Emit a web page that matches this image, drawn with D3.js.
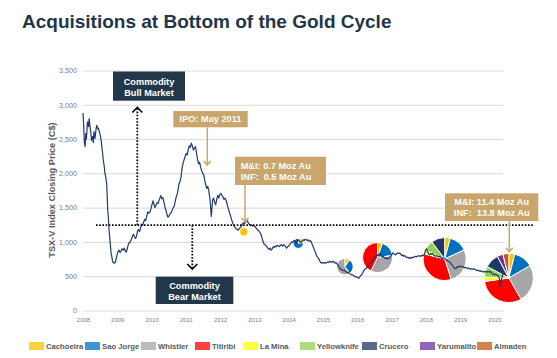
<!DOCTYPE html>
<html><head><meta charset="utf-8">
<script src="https://cdn.jsdelivr.net/npm/d3@7"></script>
<style>
body{margin:0;background:#fff}
svg{display:block}
text{font-family:"Liberation Sans",Arial,Helvetica,sans-serif}
</style>
</head><body>
<svg id="c" width="557" height="358"></svg>
<script>
// ---------- DATA ----------
const titleText = "Acquisitions at Bottom of the Gold Cycle";
const yAxisTitle = "TSX-V Index Closing Price (C$)";
const yTicks = [0, 500, 1000, 1500, 2000, 2500, 3000, 3500];
const xTicks = [2008, 2009, 2010, 2011, 2012, 2013, 2014, 2015, 2016, 2017, 2018, 2019, 2020];

const closeDates = [
2008.00,2008.02,2008.04,2008.06,2008.08,2008.10,2008.13,2008.16,2008.18,2008.20,2008.22,2008.25,2008.28,2008.30,2008.32,2008.35,2008.38,2008.40,2008.43,2008.45,
2008.48,2008.50,2008.53,2008.55,2008.57,2008.59,2008.62,2008.64,2008.67,2008.69,2008.71,2008.72,2008.74,2008.76,2008.78,2008.80,2008.82,2008.84,2008.86,2008.88,
2008.91,2008.94,2008.96,2008.99,2009.02,2009.05,2009.08,2009.11,2009.14,2009.17,2009.20,2009.23,2009.26,2009.29,2009.32,2009.35,2009.38,2009.41,2009.44,2009.47,
2009.50,2009.53,2009.56,2009.59,2009.62,2009.65,2009.68,2009.71,2009.74,2009.77,2009.80,2009.83,2009.86,2009.89,2009.92,2009.95,2009.98,2010.01,2010.04,2010.07,
2010.10,2010.13,2010.16,2010.19,2010.22,2010.25,2010.27,2010.30,2010.33,2010.36,2010.39,2010.42,2010.45,2010.48,2010.51,2010.54,2010.57,2010.60,2010.63,2010.66,
2010.69,2010.72,2010.75,2010.78,2010.80,2010.83,2010.86,2010.89,2010.92,2010.95,2010.98,2011.01,2011.04,2011.07,2011.10,2011.13,2011.16,2011.19,2011.22,2011.25,
2011.28,2011.31,2011.34,2011.37,2011.40,2011.43,2011.46,2011.49,2011.52,2011.55,2011.58,2011.61,2011.64,2011.67,2011.70,2011.72,2011.74,2011.76,2011.78,2011.81,
2011.84,2011.87,2011.90,2011.93,2011.96,2011.99,2012.02,2012.05,2012.08,2012.11,2012.14,2012.17,2012.20,2012.23,2012.26,2012.29,2012.32,2012.35,2012.38,2012.41,
2012.44,2012.47,2012.50,2012.53,2012.56,2012.59,2012.62,2012.65,2012.68,2012.71,2012.74,2012.77,2012.80,2012.83,2012.86,2012.89,2012.92,2012.95,2012.98,2013.01,
2013.04,2013.07,2013.10,2013.13,2013.16,2013.19,2013.22,2013.25,2013.28,2013.31,2013.34,2013.37,2013.40,2013.43,2013.46,2013.49,2013.52,2013.55,2013.58,2013.61,
2013.64,2013.67,2013.70,2013.73,2013.76,2013.79,2013.82,2013.85,2013.88,2013.91,2013.94,2013.97,2014.00,2014.03,2014.06,2014.09,2014.12,2014.15,2014.18,2014.21,
2014.24,2014.27,2014.30,2014.33,2014.36,2014.39,2014.42,2014.45,2014.48,2014.51,2014.54,2014.57,2014.60,2014.63,2014.66,2014.69,2014.72,2014.75,2014.78,2014.81,
2014.84,2014.87,2014.90,2014.93,2014.96,2014.99,2015.02,2015.05,2015.08,2015.11,2015.14,2015.17,2015.20,2015.23,2015.26,2015.29,2015.32,2015.35,2015.38,2015.41,
2015.44,2015.47,2015.50,2015.53,2015.56,2015.59,2015.62,2015.65,2015.68,2015.71,2015.74,2015.77,2015.80,2015.83,2015.86,2015.89,2015.92,2015.95,2015.98,2016.01,
2016.04,2016.07,2016.10,2016.13,2016.16,2016.19,2016.22,2016.25,2016.28,2016.31,2016.34,2016.37,2016.40,2016.43,2016.46,2016.49,2016.52,2016.55,2016.58,2016.61,
2016.64,2016.67,2016.70,2016.73,2016.76,2016.79,2016.82,2016.85,2016.88,2016.91,2016.94,2016.97,2017.00,2017.03,2017.06,2017.09,2017.12,2017.15,2017.18,2017.21,
2017.24,2017.27,2017.30,2017.33,2017.36,2017.39,2017.42,2017.45,2017.48,2017.51,2017.54,2017.57,2017.60,2017.63,2017.66,2017.69,2017.72,2017.75,2017.78,2017.81,
2017.84,2017.87,2017.90,2017.93,2017.96,2017.99,2018.02,2018.05,2018.08,2018.11,2018.14,2018.17,2018.20,2018.23,2018.26,2018.29,2018.32,2018.35,2018.38,2018.41,
2018.44,2018.47,2018.50,2018.53,2018.56,2018.59,2018.62,2018.65,2018.68,2018.71,2018.74,2018.77,2018.80,2018.83,2018.86,2018.89,2018.92,2018.95,2018.98,2019.01,
2019.04,2019.07,2019.10,2019.13,2019.16,2019.19,2019.22,2019.25,2019.28,2019.31,2019.34,2019.37,2019.40,2019.43,2019.46,2019.49,2019.52,2019.55,2019.58,2019.61,
2019.64,2019.67,2019.70,2019.73,2019.76,2019.79,2019.82,2019.85,2019.88,2019.91,2019.94,2019.97,2020.00,2020.03,2020.06,2020.09,2020.12,2020.15,2020.17,2020.19,
2020.21,2020.23,2020.25,2020.28
];
const closeValues = [
2880,2700,2450,2390,2580,2500,2750,2680,2800,2700,2630,2480,2540,2450,2610,2510,2640,2700,2650,2660,
2600,2560,2480,2390,2300,2200,2100,2000,1930,1850,1610,1470,1350,1170,1060,950,830,790,720,700,
690,700,740,800,860,880,845,870,900,880,910,870,850,900,960,990,1000,1040,1080,1110,
1080,1050,1080,1160,1180,1150,1210,1260,1240,1290,1330,1310,1380,1440,1420,1430,1480,1540,1600,1550,
1500,1540,1570,1560,1610,1650,1675,1630,1645,1580,1510,1460,1400,1360,1380,1410,1425,1460,1500,1520,
1590,1660,1700,1780,1850,1880,1950,2080,2150,2200,2250,2290,2270,2350,2400,2380,2440,2400,2340,2370,
2390,2300,2200,2140,2160,2090,2040,2000,1980,1900,1830,1780,1810,1740,1640,1520,1370,1480,1610,1640,
1580,1540,1620,1680,1640,1690,1710,1680,1660,1620,1640,1610,1560,1500,1450,1400,1350,1300,1260,1230,
1210,1190,1180,1170,1200,1210,1230,1260,1280,1270,1290,1320,1300,1270,1250,1240,1250,1230,1240,1230,
1210,1190,1170,1160,1140,1110,1060,1010,970,960,940,930,900,890,910,880,900,930,920,940,
930,950,940,930,950,960,940,960,950,930,910,930,940,960,980,1000,990,1020,1010,980,
1000,1030,1020,1000,990,1010,1030,1020,1040,1030,1020,1030,1010,1020,1000,960,920,880,850,800,
780,760,730,700,690,700,690,700,690,700,710,700,720,710,700,720,710,690,700,680,
660,630,610,600,590,580,590,570,560,550,560,540,530,520,520,510,500,490,490,480,
470,490,510,520,550,580,600,610,630,640,650,680,700,720,740,770,780,790,810,800,
830,820,800,780,790,770,760,770,750,760,770,790,810,840,830,820,810,830,840,830,
840,820,800,810,790,800,780,770,780,760,770,760,780,770,780,790,780,790,800,790,
800,790,810,800,820,880,900,860,830,810,830,820,830,810,800,790,800,790,780,790,
770,760,770,760,750,740,730,720,710,700,680,660,640,620,610,620,640,630,640,650,
640,630,640,620,630,620,610,620,610,600,610,600,610,600,590,580,590,580,570,580,
570,560,570,560,570,560,570,560,570,550,540,530,520,530,520,510,500,460,360,400,
460,500,530,560
];

const projects = ["Cachoeira","Sao Jorge","Whistler","Titiribi","La Mina","Yellowknife","Crucero","Yarumalito","Almaden"];
const projectColors = ["#FFC000","#0070C0","#A6A6A6","#FF0000","#FFFF00","#92D050","#1F3864","#7030A0","#C55A11"];
const projectShare = [14, 46, 90, 112, 10, 26, 34, 14, 14];

const acqDates = [2012.69, 2014.28, 2015.64, 2016.59, 2018.55, 2020.42];
const acqIndex = [1149, 980, 639, 773, 751, 474];
const acqCount = [1, 2, 3, 4, 7, 9];
const acqTotalMoz = [0.55, 1.1, 2.8, 9.4, 19.3, 25.2];

// ---------- CHART ----------
const svg = d3.select("#c");
const x = d3.scaleLinear().domain([2008, 2020.25]).range([83, 503]);
const y = d3.scaleLinear().domain([0, 3500]).range([310.5, 70.5]);
const rScale = d3.scaleSqrt().domain([0, 25.2]).range([0, 24.5]);

svg.append("text").attr("x", 22).attr("y", 28).attr("font-size", 19).attr("font-weight", "bold")
  .attr("fill", "#1F3548").text(titleText);

// y axis with gridlines
const yAxis = svg.append("g").attr("transform", "translate(83,0)")
  .call(d3.axisLeft(y).tickValues(yTicks).tickSize(-420).tickPadding(6).tickFormat(d3.format(",")));
yAxis.select(".domain").remove();
yAxis.selectAll(".tick line").attr("stroke", "#D9D9D9").attr("stroke-width", 1);
yAxis.selectAll(".tick text").attr("font-size", 7.2).attr("fill", "#808080")
  .attr("font-family", "Liberation Sans, Arial, sans-serif");

// x axis labels
const xAxis = svg.append("g").attr("transform", "translate(0,310.5)")
  .call(d3.axisBottom(x).tickValues(xTicks).tickSize(0).tickPadding(7.5).tickFormat(d3.format("d")));
xAxis.select(".domain").remove();
xAxis.selectAll(".tick text").attr("font-size", 6).attr("fill", "#808080")
  .attr("font-family", "Liberation Sans, Arial, sans-serif");

// y axis title
svg.append("text").attr("transform", "translate(55,190) rotate(-90)").attr("text-anchor", "middle")
  .attr("font-size", 9.2).attr("font-weight", "bold").attr("fill", "#595959").text(yAxisTitle);

// pies
const pie = d3.pie().sort(null).value(d => d.v);
acqDates.forEach((dt, i) => {
  const slices = projects.slice(0, acqCount[i]).map((p, j) => ({ name: p, v: projectShare[j], c: projectColors[j] }));
  const arc = d3.arc().innerRadius(0).outerRadius(rScale(acqTotalMoz[i]));
  svg.append("g").attr("transform", `translate(${x(dt)},${y(acqIndex[i])})`)
    .selectAll("path").data(pie(slices)).join("path")
    .attr("d", arc).attr("fill", d => d.data.c)
    .attr("stroke", "#fff").attr("stroke-width", acqCount[i] > 1 ? 1 : 0);
});

// price line
const series = closeDates.map((d, i) => [d, closeValues[i]]);
svg.append("path").datum(series)
  .attr("d", d3.line().x(d => x(d[0])).y(d => y(d[1])))
  .attr("fill", "none").attr("stroke", "#1F3A6E").attr("stroke-width", 1.2).attr("stroke-linejoin", "round");

// dotted reference lines
const dot = { stroke: "#000", "stroke-width": 1.8, "stroke-dasharray": "1.6,1.6" };
function dline(x1, y1, x2, y2) {
  const l = svg.append("line").attr("x1", x1).attr("y1", y1).attr("x2", x2).attr("y2", y2);
  Object.entries(dot).forEach(([k, v]) => l.attr(k, v));
}
const yRef = y(1245);
dline(96, yRef, 533, yRef);
dline(137.3, yRef, 137.3, 108.5);
dline(192.3, yRef, 192.3, 268);
svg.append("path").attr("d", "M132.3,112.5 L137.3,107.5 L142.3,112.5").attr("fill", "none").attr("stroke", "#000").attr("stroke-width", 1.6);
svg.append("path").attr("d", "M187.3,264 L192.3,269 L197.3,264").attr("fill", "none").attr("stroke", "#000").attr("stroke-width", 1.6);

// boxes
const dark = "#22384A", tan = "#C9A66B";
function box(x0, y0, x1, y1, fill, lines, anchor, tx) {
  svg.append("rect").attr("x", x0).attr("y", y0).attr("width", x1 - x0).attr("height", y1 - y0).attr("fill", fill);
  lines.forEach(l => {
    svg.append("text").attr("x", tx).attr("y", l.y).attr("text-anchor", anchor)
      .attr("font-size", 9.2).attr("font-weight", "bold").attr("fill", "#fff")
      .style("white-space", "pre").text(l.t);
  });
}
box(113, 71.5, 185, 100.7, dark, [{ t: "Commodity", y: 84.5 }, { t: "Bull Market", y: 95.5 }], "middle", 149);
box(155.7, 276.7, 233.3, 304, dark, [{ t: "Commodity", y: 289.3 }, { t: "Bear Market", y: 300.3 }], "middle", 194.5);
box(173.3, 111, 247.7, 127.3, tan, [{ t: "IPO: May 2011", y: 122.4 }], "middle", 210.5);
box(235, 156.7, 326, 185, tan, [{ t: "M&I: 0.7 Moz Au", y: 169 }, { t: "INF:  0.5 Moz Au", y: 180 }], "start", 240.7);
box(445, 193.3, 538.3, 221, tan, [{ t: "M&I: 11.4 Moz Au", y: 205 }, { t: "INF:  13.8 Moz Au", y: 216 }], "middle", 491.7);

// tan arrows
function tanArrow(ax, y0, y1) {
  svg.append("line").attr("x1", ax).attr("x2", ax).attr("y1", y0).attr("y2", y1 - 0.5)
    .attr("stroke", tan).attr("stroke-width", 1.5);
  svg.append("path").attr("d", `M${ax - 3.5},${y1 - 4} L${ax},${y1} L${ax + 3.5},${y1 - 4}`)
    .attr("fill", "none").attr("stroke", tan).attr("stroke-width", 1.5);
}
tanArrow(207.3, 127.3, 165);
tanArrow(245, 185, 221.7);
tanArrow(509.3, 221, 251.7);

// legend
const legendX = [29, 85, 141, 195, 243, 300, 362, 420, 477];
const lg = svg.append("g");
projects.forEach((p, i) => {
  lg.append("rect").attr("x", legendX[i]).attr("y", 342).attr("width", 15).attr("height", 8)
    .attr("fill", projectColors[i]).attr("fill-opacity", 0.75);
  lg.append("text").attr("x", legendX[i] + 17).attr("y", 348.8).attr("font-size", 7.7)
    .attr("font-weight", "bold").attr("fill", "#595959").text(p);
});
</script>
</body></html>
